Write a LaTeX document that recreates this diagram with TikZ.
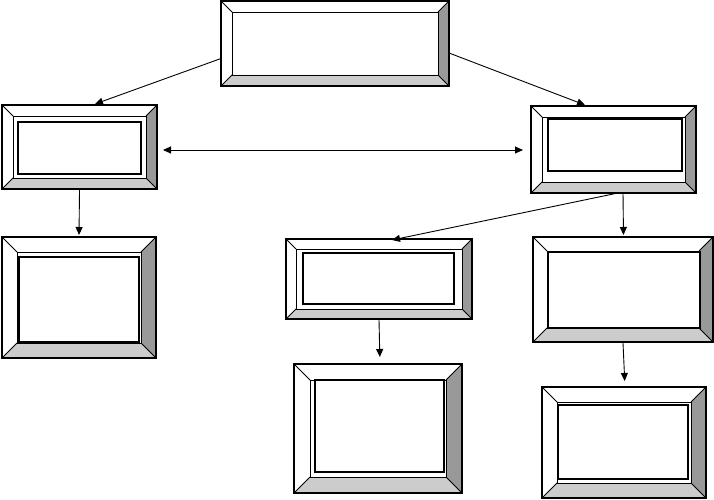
\documentclass[tikz,border=0pt]{standalone}
\usepackage{xcolor}
\usepackage{tikz}
\usetikzlibrary{arrows.meta, positioning, calc}
\definecolor{cdark}{RGB}{153, 153, 153}
\definecolor{clight}{RGB}{204, 204, 204}

% bevelled frame: name, x1, y1, x2, y2, bevel width
\newcommand{\bevelbox}[6]{%
  \node[boxshape, minimum width={#4-#2}, minimum height={#5-#3}] (#1) at ({(#2+#4)/2},{(#3+#5)/2}) {};
  \fill[cdark] (#1.north east) -- (#1.south east) -- ([xshift=-#6pt,yshift=#6pt]#1.south east) -- ([xshift=-#6pt,yshift=-#6pt]#1.north east) -- cycle;
  \fill[clight] (#1.south west) -- (#1.south east) -- ([xshift=-#6pt,yshift=#6pt]#1.south east) -- ([xshift=#6pt,yshift=#6pt]#1.south west) -- cycle;
  \draw[thinline] ([xshift=#6pt,yshift=-#6pt]#1.north west) rectangle ([xshift=-#6pt,yshift=#6pt]#1.south east);
  \foreach \c/\dx/\dy in {north west/1/-1, north east/-1/-1, south east/-1/1, south west/1/1}
    \draw[thinline] (#1.\c) -- ([xshift=\dx*#6pt,yshift=\dy*#6pt]#1.\c);
  \draw[outline] (#1.north west) rectangle (#1.south east);
}
% inner text frame: name, x1, y1, x2, y2
\newcommand{\textframe}[5]{%
  \node[txtframe, minimum width={#4-#2}, minimum height={#5-#3}] (#1) at ({(#2+#4)/2},{(#3+#5)/2}) {};
}

\begin{document}
\begin{tikzpicture}[x=1pt, y=-1pt,
    boxshape/.style={rectangle, inner sep=0pt, outer sep=0pt},
    txtframe/.style={rectangle, inner sep=0pt, outer sep=0pt, draw, line width=2.2pt},
    thinline/.style={line width=0.8pt},
    outline/.style={line width=1.6pt},
    arr/.style={-{Triangle[length=8pt,width=7pt]}, line width=0.9pt},
    dblarr/.style={{Triangle[length=8pt,width=7pt]}-{Triangle[length=8pt,width=7pt]}, line width=0.9pt}]
  \useasboundingbox (0,0) rectangle (714,500);

  \bevelbox{top}{221}{1}{449}{86}{11}
  \bevelbox{left}{2}{105}{157}{189}{11}
  \textframe{left-t}{18}{122}{141}{174}
  \bevelbox{right}{531}{106}{696}{193}{11}
  \textframe{right-t}{548}{119}{682}{171}
  \bevelbox{leftlow}{2}{237}{156}{358}{15}
  \textframe{leftlow-t}{19}{257}{139}{342}
  \bevelbox{mid}{286}{239}{472}{319}{10}
  \textframe{mid-t}{303}{253}{454}{304}
  \bevelbox{rightmid}{533}{237}{713}{342}{14}
  \textframe{rightmid-t}{548}{252}{700}{328}
  \bevelbox{midlow}{294}{364}{462}{493}{16}
  \textframe{midlow-t}{315}{380}{444}{472}
  \bevelbox{rightlow}{542}{387}{706}{498}{15}
  \textframe{rightlow-t}{558}{405}{688}{479}

  \draw[arr] ([yshift=-15pt]top.west) -- ([xshift=15.5pt,yshift=1pt]left.north);
  \draw[arr] ([yshift=-9.5pt]top.east) -- ([xshift=-28.5pt,yshift=1pt]right.north);
  \draw[dblarr] ([xshift=6pt,yshift=-3pt]left.east) -- ([xshift=-8pt,yshift=-0.5pt]right.west);
  \draw[arr, shorten >=2pt] ([yshift=-1pt]left.south) -- (leftlow.north);
  \draw[arr] ([xshift=4.5pt]right.south) -- ([xshift=13pt,yshift=-1pt]mid.north);
  \draw[arr, shorten >=2pt] ([xshift=9.5pt]right.south) -- ([xshift=0.5pt]rightmid.north);
  \draw[arr, shorten >=7pt] ([yshift=-1pt]mid.south) -- ([xshift=2pt]midlow.north);
  \draw[arr, shorten >=6pt] ([yshift=-1pt]rightmid.south) -- ([xshift=1pt]rightlow.north);
\end{tikzpicture}
\end{document}
